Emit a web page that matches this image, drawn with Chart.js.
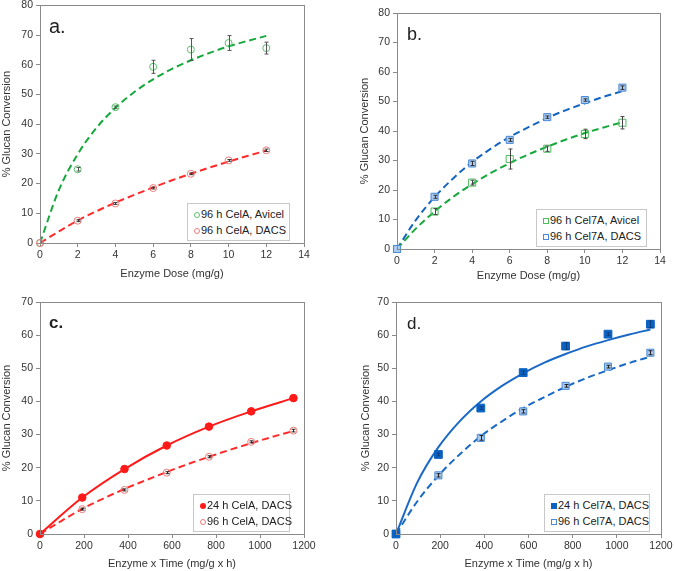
<!DOCTYPE html>
<html>
<head>
<meta charset="utf-8">
<script src="https://cdn.jsdelivr.net/npm/chart.js@4.4.1/dist/chart.umd.min.js"></script>
<style>
  body { margin: 0; background: #fff; font-family: "Liberation Sans", Arial, sans-serif; }
  #wrap { position: relative; width: 675px; height: 571px; overflow: hidden; }
  canvas { position: absolute; }
  .legend { position: absolute; background: #fff; border: 1px solid #c8c8c8; font-size: 11px; color: #222; padding: 2px 6px 2px 6px; line-height: 16px; }
  .legend .row { white-space: nowrap; }
  .mk { display: inline-block; width: 6px; height: 6px; margin-right: 1px; vertical-align: -0px; box-sizing: border-box; }
  .tag { position: absolute; color: #222; line-height: 1; }
</style>
</head>
<body>
<div id="wrap">
  <canvas id="chartA" width="337" height="285" style="left:0;top:-4px"></canvas>
  <canvas id="chartB" width="338" height="285" style="left:337px;top:0"></canvas>
  <canvas id="chartC" width="337" height="286" style="left:0;top:285px"></canvas>
  <canvas id="chartD" width="338" height="286" style="left:337px;top:285px"></canvas>

  <div class="tag" style="left:49px;top:16px;font-size:20px">a.</div>
  <div class="tag" style="left:407px;top:25px;font-size:18px">b.</div>
  <div class="tag" style="left:49px;top:314px;font-size:17px;font-weight:bold">c.</div>
  <div class="tag" style="left:407px;top:315px;font-size:17px">d.</div>

  <div class="legend" style="left:187px;top:203px;width:89px">
    <div class="row"><span class="mk" style="border:1px solid #5cbf6c;border-radius:50%"></span>96 h CelA, Avicel</div>
    <div class="row"><span class="mk" style="border:1px solid #f07b7b;border-radius:50%"></span>96 h CelA, DACS</div>
  </div>
  <div class="legend" style="left:536px;top:209px;width:97px">
    <div class="row"><span class="mk" style="border:1px solid #4dbb5e"></span>96 h Cel7A, Avicel</div>
    <div class="row"><span class="mk" style="border:1px solid #4a8ad8"></span>96 h Cel7A, DACS</div>
  </div>
  <div class="legend" style="left:193px;top:494px;width:83px">
    <div class="row"><span class="mk" style="background:#ff1a1a;border-radius:50%"></span>24 h CelA, DACS</div>
    <div class="row"><span class="mk" style="border:1px solid #f07b7b;border-radius:50%"></span>96 h CelA, DACS</div>
  </div>
  <div class="legend" style="left:544px;top:494px;width:92px">
    <div class="row"><span class="mk" style="background:#0c62c2"></span>24 h Cel7A, DACS</div>
    <div class="row"><span class="mk" style="border:1px solid #4a8ad8"></span>96 h Cel7A, DACS</div>
  </div>
</div>

<script>
// x values
const doseX = [0, 2, 4, 6, 8, 10, 12];
const fitDoseX = [0, 1, 2, 3, 4, 5, 6, 7, 8, 9, 10, 11, 12];
const timeX = [0, 192, 384, 576, 768, 960, 1152];
const fitTimeX = [0, 96, 192, 288, 384, 480, 576, 672, 768, 864, 960, 1056, 1152];

// panel a: CelA, 96 h
const celAAvicel = [0, 24.8, 45.7, 59.3, 65.1, 67.3, 65.6];
const celAAvicelErr = [0, 0.6, 0.4, 2.2, 3.7, 2.5, 2.0];
const celAAvicelFit = [0, 17.8, 29.9, 38.8, 45.5, 50.8, 55.1, 58.6, 61.5, 64.0, 66.2, 68.0, 69.7];
const celADacs96 = [0, 7.5, 13.3, 18.5, 23.3, 27.8, 31.2];
const celADacs96Err = [0, 0.3, 0.3, 0.3, 0.3, 0.3, 0.4];
const celADacs96Fit = [0, 3.9, 7.6, 10.7, 13.6, 16.2, 18.7, 21.1, 23.3, 25.4, 27.4, 29.3, 31.1];

// panel b: Cel7A, 96 h
const cel7AAvicel = [0, 12.7, 22.5, 30.5, 34.0, 39.0, 42.8];
const cel7AAvicelErr = [0, 1.0, 0.8, 3.4, 0.9, 1.6, 2.1];
const cel7AAvicelFit = [0, 6.9, 12.7, 17.7, 22.0, 25.8, 29.1, 32.1, 34.7, 37.1, 39.3, 41.2, 43.0];
const cel7ADacs96 = [0, 17.7, 29.0, 37.0, 44.7, 50.5, 54.7];
const cel7ADacs96Err = [0, 0.5, 0.7, 0.5, 0.4, 0.4, 0.6];
const cel7ADacs96Fit = [0, 9.8, 17.6, 24.0, 29.5, 34.0, 38.0, 41.3, 44.4, 47.1, 49.4, 51.6, 53.5];

// panel c: CelA 24 h on DACS
const celADacs24 = [0, 11.0, 19.6, 26.7, 32.4, 37.0, 41.0];

// panel d: Cel7A 24 h on DACS
const cel7ADacs24 = [0, 24.0, 38.0, 48.7, 56.7, 60.3, 63.3];
const cel7ADacs24Err = [0, 0.4, 0.4, 0.5, 1.0, 0.4, 1.0];
const cel7ADacs24Fit = [0, 15.5, 26.2, 34.0, 40.0, 44.7, 48.5, 51.7, 54.3, 56.6, 58.5, 60.2, 61.7];

const xTicksDose = [0, 2, 4, 6, 8, 10, 12, 14];
const xTicksTime = [0, 200, 400, 600, 800, 1000, 1200];

function pts(xs, ys) {
    return xs.map((x, i) => ({ x: x, y: ys[i] }));
}

// draws vertical error bars with caps
const errorBars = {
    id: 'errorBars',
    afterDatasetsDraw(chart) {
        const ctx = chart.ctx;
        const xs = chart.scales.x, ys = chart.scales.y;
        chart.data.datasets.forEach(ds => {
            if (!ds.errors) return;
            ctx.save();
            ctx.strokeStyle = ds.errorColor || '#333';
            ctx.lineWidth = 1;
            ds.data.forEach((p, j) => {
                const e = ds.errors[j];
                if (!e) return;
                const x = Math.round(xs.getPixelForValue(p.x)) + 0.5;
                const y1 = ys.getPixelForValue(p.y + e);
                const y2 = ys.getPixelForValue(p.y - e);
                ctx.beginPath();
                ctx.moveTo(x, y1); ctx.lineTo(x, y2);
                ctx.moveTo(x - 2, y1); ctx.lineTo(x + 2, y1);
                ctx.moveTo(x - 2, y2); ctx.lineTo(x + 2, y2);
                ctx.stroke();
            });
            ctx.restore();
        });
    }
};

// box around the plot area
const frame = {
    id: 'frame',
    afterDraw(chart) {
        const a = chart.chartArea, ctx = chart.ctx;
        ctx.save();
        ctx.strokeStyle = '#8a8a8a';
        ctx.lineWidth = 1;
        ctx.strokeRect(Math.round(a.left) + 0.5, Math.round(a.top) + 0.5, Math.round(a.right - a.left), Math.round(a.bottom - a.top));
        ctx.restore();
    }
};

function fitLine(xs, ys, color, dashed) {
    return {
        data: pts(xs, ys),
        showLine: true,
        pointRadius: 0,
        borderColor: color,
        borderWidth: 2,
        borderDash: dashed ? [7, 4] : [],
        cubicInterpolationMode: 'monotone',
        order: 2
    };
}

function marks(xs, ys, style, radius, border, fill, errors, errColor) {
    return {
        data: pts(xs, ys),
        showLine: false,
        clip: false,
        pointStyle: style,
        pointRadius: radius,
        pointBorderColor: border,
        pointBackgroundColor: fill,
        pointBorderWidth: 1,
        errors: errors,
        errorColor: errColor,
        order: 1
    };
}

function makePanel(id, p) {
    const tickFont = { family: 'Liberation Sans', size: 10.5 };
    const titleFont = { family: 'Liberation Sans', size: 11 };
    return new Chart(document.getElementById(id), {
        type: 'scatter',
        data: { datasets: p.datasets },
        plugins: [errorBars, frame],
        options: {
            responsive: false,
            animation: false,
            layout: { padding: p.pad },
            plugins: { legend: { display: false }, tooltip: { enabled: false } },
            scales: {
                x: {
                    type: 'linear', min: 0, max: p.xMax,
                    afterBuildTicks: s => { s.ticks = p.xTicks.map(v => ({ value: v })); },
                    afterFit: s => { s.height = p.xHeight; },
                    grid: { drawOnChartArea: false, tickLength: 4, color: '#8a8a8a' },
                    border: { color: '#8a8a8a' },
                    ticks: { color: '#333', font: tickFont, padding: 2, maxRotation: 0, callback: v => String(v) },
                    title: { display: true, text: p.xTitle, color: '#333', font: titleFont, padding: { top: 0, bottom: p.xTitlePad } }
                },
                y: {
                    type: 'linear', min: 0, max: p.yMax,
                    ticks: { stepSize: 10, color: '#333', font: tickFont, padding: 3, callback: v => String(v) },
                    afterFit: s => { s.width = p.yWidth; },
                    grid: { drawOnChartArea: false, tickLength: 4, color: '#8a8a8a' },
                    border: { color: '#8a8a8a' },
                    title: { display: true, text: '% Glucan Conversion', color: '#333', font: titleFont, padding: { top: 0, bottom: 0 } }
                }
            }
        }
    });
}

makePanel('chartA', {
    xMax: 14, xTicks: xTicksDose, yMax: 80, xTitle: 'Enzyme Dose (mg/g)',
    pad: { left: 0, top: 3, right: 33, bottom: 0 }, yWidth: 40, xHeight: 38, xTitlePad: 0,
    datasets: [
        fitLine(fitDoseX, celAAvicelFit, '#17a83d', true),
        fitLine(fitDoseX, celADacs96Fit, '#ff2a2a', true),
        marks(doseX, celADacs96, 'circle', 3.5, '#f07b7b', 'rgba(0,0,0,0)', celADacs96Err, '#333'),
        marks(doseX, celAAvicel, 'circle', 3.5, '#5cbf6c', 'rgba(0,0,0,0)', celAAvicelErr, '#555')
    ]
});

makePanel('chartB', {
    xMax: 14, xTicks: xTicksDose, yMax: 80, xTitle: 'Enzyme Dose (mg/g)',
    pad: { left: 21, top: 13, right: 15, bottom: 0 }, yWidth: 39, xHeight: 36, xTitlePad: 2,
    datasets: [
        fitLine(fitDoseX, cel7AAvicelFit, '#17a83d', true),
        fitLine(fitDoseX, cel7ADacs96Fit, '#1565c0', true),
        marks(doseX, cel7ADacs96, 'rect', 5, '#4a8ad8', '#a9c9ef', cel7ADacs96Err, '#333'),
        marks(doseX, cel7AAvicel, 'rect', 5, '#4dbb5e', 'rgba(0,0,0,0)', cel7AAvicelErr, '#444')
    ]
});

makePanel('chartC', {
    xMax: 1200, xTicks: xTicksTime, yMax: 70, xTitle: 'Enzyme x Time (mg/g x h)',
    pad: { left: 0, top: 17, right: 33, bottom: 0 }, yWidth: 40, xHeight: 37, xTitlePad: 0,
    datasets: [
        fitLine(timeX, celADacs24, '#ff1a1a', false),
        fitLine(fitTimeX, celADacs96Fit, '#ff2a2a', true),
        marks(timeX, celADacs24, 'circle', 3.8, '#ff1a1a', '#ff1a1a', null, null),
        marks(timeX, celADacs96, 'circle', 3.5, '#f07b7b', 'rgba(0,0,0,0)', celADacs96Err, '#222')
    ]
});

makePanel('chartD', {
    xMax: 1200, xTicks: xTicksTime, yMax: 70, xTitle: 'Enzyme x Time (mg/g x h)',
    pad: { left: 22, top: 17, right: 14, bottom: 0 }, yWidth: 37, xHeight: 37, xTitlePad: 0,
    datasets: [
        fitLine(fitTimeX, cel7ADacs24Fit, '#1a69c6', false),
        fitLine(fitTimeX, cel7ADacs96Fit, '#1a69c6', true),
        marks(timeX, cel7ADacs24, 'rect', 5.5, '#0c62c2', '#0c62c2', cel7ADacs24Err, '#0a3f80'),
        marks(timeX, cel7ADacs96, 'rect', 5, '#4a8ad8', '#a9c9ef', cel7ADacs96Err, '#222')
    ]
});
</script>
</body>
</html>
